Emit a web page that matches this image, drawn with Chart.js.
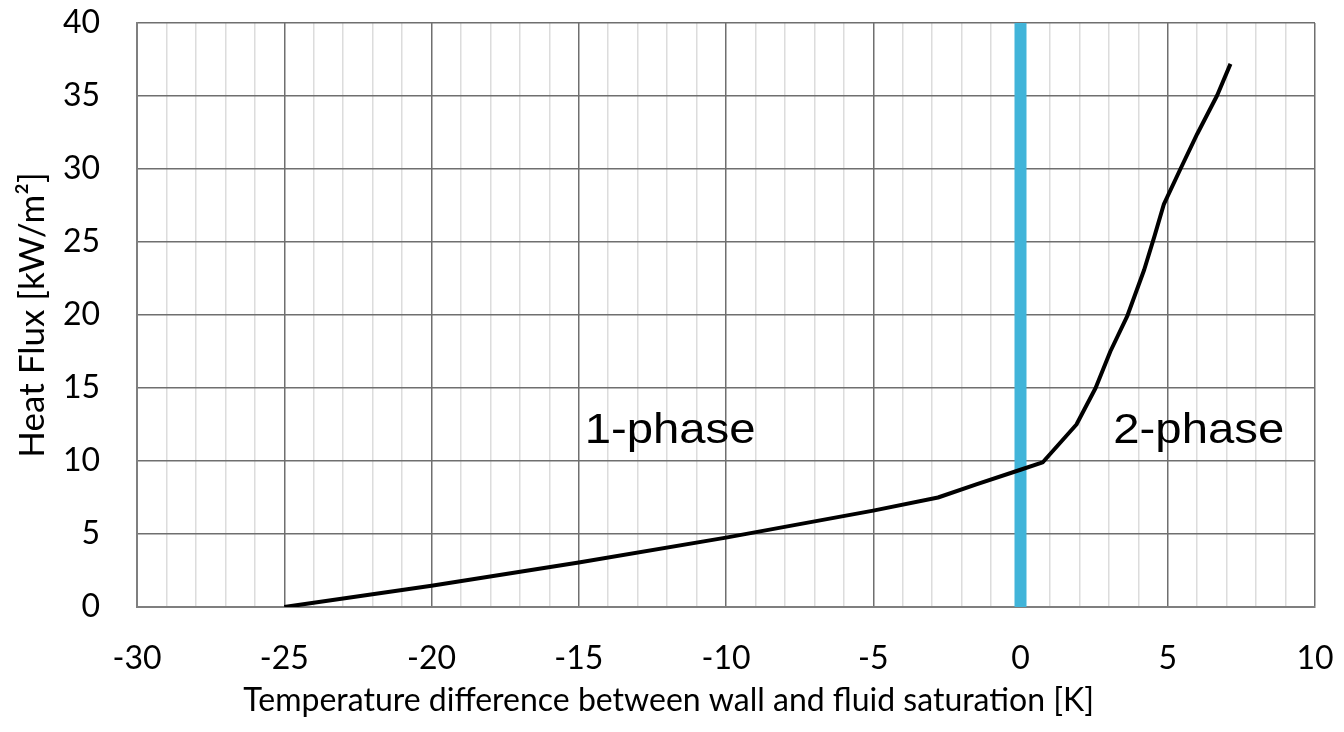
<!DOCTYPE html>
<html>
<head>
<meta charset="utf-8">
<script src="https://cdn.jsdelivr.net/npm/chart.js@4"></script>
<style>
  html, body { margin: 0; padding: 0; background: #fff; }
  #wrap { width: 1344px; height: 732px; }
</style>
</head>
<body>
<div id="wrap"><canvas id="chart"></canvas></div>
<script>
// curve
const tempDiff = [-25, -20, -15, -10, -5, -2.8, -1.5, 0, 0.75, 1.9, 2.55, 3.05, 3.62, 4.2, 4.55, 4.87, 5.43, 6.0, 6.68, 7.13];
const heatFlux = [0, 1.45, 3.05, 4.75, 6.6, 7.5, 8.4, 9.4, 9.9, 12.5, 15.0, 17.5, 19.9, 23.1, 25.4, 27.6, 30.0, 32.4, 35.05, 37.2];

// vertical marker at saturation
const satLineX = [0, 0];
const satLineY = [0, 40];

// region labels: [text, x, y(baseline)]
const regionLabels = [
  ["1-phase", -14.8, 11.2],
  ["2-phase", 3.15, 11.2]
];

const labelPlugin = {
  id: "regionLabels",
  afterDatasetsDraw(chart) {
    const ctx = chart.ctx;
    const xs = chart.scales.x, ys = chart.scales.y;
    ctx.save();
    ctx.font = "43px 'Liberation Sans', Arial, sans-serif";
    ctx.fillStyle = "#000";
    ctx.textAlign = "left";
    ctx.textBaseline = "alphabetic";
    regionLabels.forEach(l => {
      const px = xs.getPixelForValue(l[1]);
      const py = ys.getPixelForValue(l[2]);
      ctx.save();
      ctx.translate(px, py);
      ctx.scale(1.1, 1); // the original text is a little wide
      ctx.fillText(l[0], 0, 0);
      ctx.restore();
    });
    ctx.restore();
  }
};

const tickFont = { family: "Lato, 'Open Sans', sans-serif", size: 32 };

new Chart(document.getElementById("chart"), {
  type: "scatter",
  data: {
    datasets: [
      {
        data: tempDiff.map((x, i) => ({ x: x, y: heatFlux[i] })),
        showLine: true,
        borderColor: "#000",
        borderWidth: 4,
        borderJoinStyle: "round",
        pointRadius: 0,
        tension: 0
      },
      {
        data: satLineX.map((x, i) => ({ x: x, y: satLineY[i] })),
        showLine: true,
        borderColor: "#41b4d9",
        borderWidth: 12,
        borderCapStyle: "butt",
        pointRadius: 0
      }
    ]
  },
  options: {
    responsive: true,
    maintainAspectRatio: false,
    animation: false,
    layout: { padding: { top: 23, right: 29, left: 0, bottom: 0 } },
    plugins: { legend: { display: false }, tooltip: { enabled: false } },
    scales: {
      x: {
        type: "linear",
        min: -30,
        max: 10,
        afterFit: s => {
          s.height = 125;
          s.paddingLeft = 0;
          s.paddingRight = 0;
        },
        border: { color: "#7f7f7f", width: 2 },
        grid: {
          drawTicks: false,
          color: c => (c.tick.value % 5 === 0 ? "#6f6f6f" : "#dcdcdc"),
          lineWidth: 1.5
        },
        ticks: {
          stepSize: 1,
          autoSkip: false,
          maxRotation: 0,
          padding: 32,
          color: "#000",
          font: tickFont,
          callback: v => (v % 5 === 0 ? String(v) : "")
        },
        title: {
          display: true,
          // trailing spaces push the centred title left, as in the original
          text: "Temperature difference between wall and fluid saturation [K]" + "\u00a0".repeat(14),
          color: "#000",
          font: tickFont,
          padding: { top: 0, bottom: 12 }
        }
      },
      y: {
        type: "linear",
        min: 0,
        max: 40,
        afterFit: s => {
          s.width = 137;
          s.paddingTop = 0;
          s.paddingBottom = 0;
        },
        border: { color: "#7f7f7f", width: 2 },
        grid: { drawTicks: false, color: "#6f6f6f", lineWidth: 1.5 },
        ticks: {
          stepSize: 5,
          padding: 37,
          color: "#000",
          font: tickFont
        },
        title: {
          display: true,
          text: "Heat Flux [kW/m²]",
          color: "#000",
          font: { family: tickFont.family, size: 35 },
          padding: { top: 12, bottom: 0 }
        }
      }
    }
  },
  plugins: [labelPlugin]
});
</script>
</body>
</html>
